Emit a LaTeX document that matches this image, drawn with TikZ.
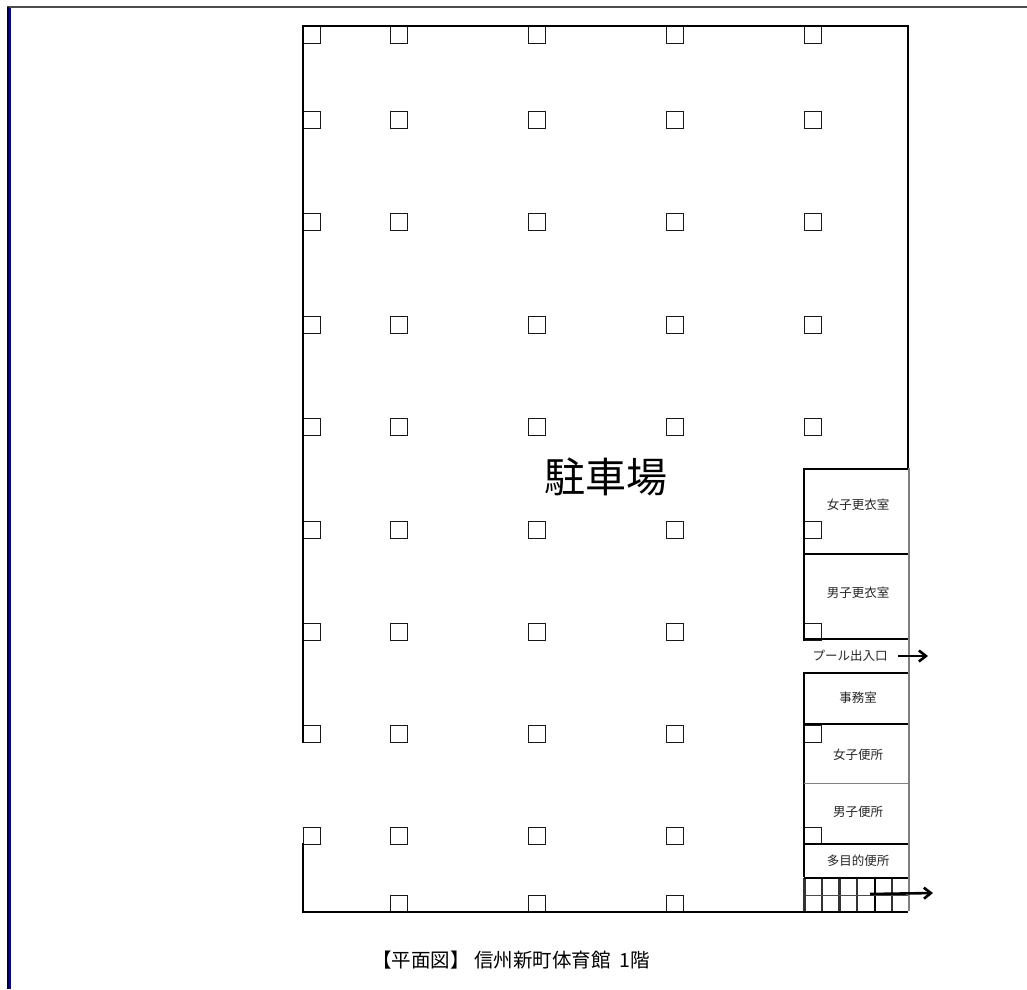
\documentclass[tikz,border=0pt]{standalone}
\usepackage{fontspec}
\setmainfont{Noto Sans CJK JP}
\usetikzlibrary{arrows.meta}
\tikzset{
  x=1pt,y=-1pt,
  pillar/.style={draw=black!90,line width=1pt,fill=white},
  wall/.style={draw=black,line width=2.4pt},
  thinwall/.style={draw=black!50,line width=1.3pt},
  gridline/.style={draw=black!80,line width=2.4pt},
  arrowline/.style={draw=black,line width=2.6pt,-{Straight Barb[length=7pt,width=11pt,line width=2.6pt]}},
  lbl/.style={font=\fontsize{12.5pt}{14pt}\selectfont,text=black!85,inner sep=0pt},
}
\begin{document}
\begin{tikzpicture}
\useasboundingbox (0,0) rectangle (1027,989);
\fill[white] (0,0) rectangle (1027,989);
% page frame
\draw[draw=black!70,line width=2.2pt] (7,7) -- (1027,7);
\fill[black] (7,7) rectangle (9.2,989);
\fill[blue!80!black] (9.2,8) rectangle (11.2,989);
% pillars
\foreach \yy in {26,111,213,316,418,521,623,725,827}{
  \foreach \xx in {303,390,528,666}{
    \draw[pillar] (\xx+0.4,\yy+0.3) rectangle ++(17.3,17.3);
  }
}
\foreach \yy in {26,111,213,316,418,521,623,725,827}{
  \draw[pillar] (804.4,\yy+0.3) rectangle ++(17.3,17.3);
}
\foreach \xx in {390,528,666}{
  \draw[pillar] (\xx+0.4,895) rectangle ++(17.3,17);
}
% outer wall
\draw[wall,line cap=rect] (303,742) -- (303,26) -- (908,26) -- (908,468);
\draw[wall,line cap=rect] (303,844) -- (303,911.7) -- (804,911.7);
% stair grid
\foreach \xx in {822,839.5,857,892}{
  \draw[gridline] (\xx,878) -- (\xx,911);
}
\draw[wall] (875,878) -- (875,911);
\draw[draw=black!70,line width=0.8pt] (804,895) -- (908,895);
% rooms
\draw[thinwall] (909,468) -- (909,911);
\draw[wall] (804,641) -- (804,469) -- (908,469);
\draw[wall] (804,672) -- (804,877);
\draw[gridline] (804.5,878) -- (804.5,911);
\draw[wall] (804,554) -- (908,554);
\draw[wall] (804,639) -- (908,639);
\draw[wall] (804,672.8) -- (908,672.8);
\draw[wall] (804,723.7) -- (908,723.7);
\draw[thinwall] (804,783.7) -- (908,783.7);
\draw[wall] (804,843.7) -- (908,843.7);
\draw[wall] (804,877.7) -- (908,877.7);
\draw[wall] (804,911.7) -- (908,911.7);
% labels
\node[inner sep=0pt,font=\fontsize{41pt}{46pt}\selectfont] (park) at (606,477) {駐車場};
\node[lbl] (r1) at (858,505) {女子更衣室};
\node[lbl] (r2) at (858,593) {男子更衣室};
\node[lbl] (r3) at (850,656) {プール出入口};
\node[lbl] (r4) at (858,698) {事務室};
\node[lbl] (r5) at (858,755) {女子便所};
\node[lbl] (r6) at (858,812) {男子便所};
\node[lbl] (r7) at (858,861) {多目的便所};
\node[inner sep=0pt,font=\fontsize{19.5pt}{22pt}\selectfont,text=black] (cap) at (511,960) {【平面図】 信州新町体育館\ \ 1階};
% arrows
\coordinate (a1s) at (898,656);
\coordinate (a1e) at (928,656);
\coordinate (a2s) at (870,894);
\coordinate (a2e) at (933,893);
\draw[arrowline] (a1s) -- (a1e);
\draw[arrowline] (a2s) -- (a2e);
\end{tikzpicture}
\end{document}
